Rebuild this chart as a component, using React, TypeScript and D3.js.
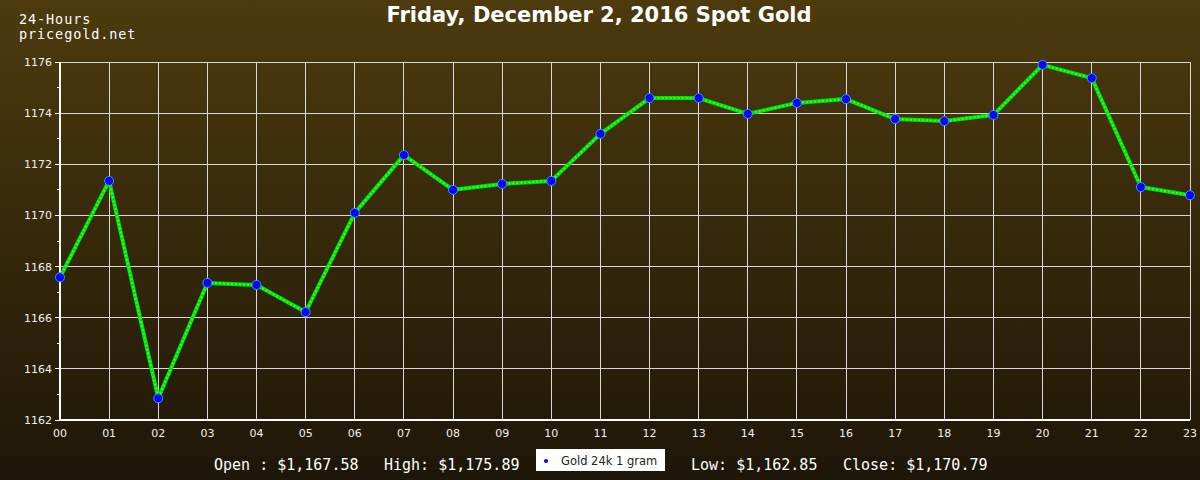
import React from "react";
import * as d3 from "d3";

const hours = ["00","01","02","03","04","05","06","07","08","09","10","11","12","13","14","15","16","17","18","19","20","21","22","23"];
const prices = [1167.58, 1171.35, 1162.85, 1167.36, 1167.28, 1166.22, 1170.10, 1172.36, 1171.0, 1171.23, 1171.35, 1173.19, 1174.59, 1174.59, 1173.97, 1174.40, 1174.55, 1173.77, 1173.69, 1173.93, 1175.89, 1175.37, 1171.11, 1170.79];
const yMajorTicks = [1162, 1164, 1166, 1168, 1170, 1172, 1174, 1176];
const yMinorTicks = [1163, 1165, 1167, 1169, 1171, 1173, 1175];
const titleText = "Friday, December 2, 2016 Spot Gold";
const cornerLines = ["24-Hours", "pricegold.net"];
const statsLeft = ["Open : $1,167.58", "High: $1,175.89"];
const statsRight = ["Low: $1,162.85", "Close: $1,170.79"];
const legendLabel = "Gold 24k 1 gram";

export default function App() {
  const W = 1200, H = 480;
  const left = 60, right = 1190, top = 62, bottom = 420;
  const x = d3.scalePoint<string>().domain(hours).range([left, right]);
  const y = d3.scaleLinear().domain([1162, 1176]).range([bottom, top]);
  const line = d3.line<number>().x((_, i) => x(hours[i]) as number).y((d) => y(d));
  const path = line(prices) || "";
  const mono = "'DejaVu Sans Mono', monospace";
  const sans = "'DejaVu Sans', sans-serif";
  return (
    <svg width={W} height={H} style={{ position: "absolute", left: 0, top: 0, display: "block" }}>
      <defs>
        <linearGradient id="bg" x1="0" y1="0" x2="0" y2="1">
          <stop offset="0" stopColor="#4d3b0e" />
          <stop offset="1" stopColor="#1e1608" />
        </linearGradient>
      </defs>
      <rect x={0} y={0} width={W} height={H} fill="url(#bg)" />
      {yMajorTicks.map((t) => (
        <line key={"h" + t} x1={left} x2={right} y1={y(t)} y2={y(t)} stroke="#d8d8d8" strokeWidth={1} shapeRendering="crispEdges" />
      ))}
      {hours.map((h) => (
        <line key={"v" + h} x1={x(h)} x2={x(h)} y1={top} y2={bottom} stroke="#d8d8d8" strokeWidth={1} shapeRendering="crispEdges" />
      ))}
      <line x1={left} x2={left} y1={top} y2={bottom} stroke="#ffffff" strokeWidth={1.5} shapeRendering="crispEdges" />
      <line x1={left} x2={right} y1={bottom} y2={bottom} stroke="#ffffff" strokeWidth={1.5} shapeRendering="crispEdges" />
      {yMajorTicks.map((t) => (
        <g key={"yt" + t}>
          <line x1={left - 5} x2={left} y1={y(t)} y2={y(t)} stroke="#ffffff" shapeRendering="crispEdges" />
          <text x={left - 8} y={y(t) + 4} textAnchor="end" fill="#f0f0f0" fontFamily={sans} fontSize={11}>{t}</text>
        </g>
      ))}
      {yMinorTicks.map((t) => (
        <line key={"ym" + t} x1={left - 3} x2={left} y1={y(t)} y2={y(t)} stroke="#ffffff" shapeRendering="crispEdges" />
      ))}
      {hours.map((h) => (
        <text key={"xl" + h} x={x(h)} y={bottom + 17} textAnchor="middle" fill="#f0f0f0" fontFamily={sans} fontSize={11}>{h}</text>
      ))}
      <path d={path} fill="none" stroke="#00e000" strokeWidth={4} strokeLinejoin="round" />
      <path d={path} fill="none" stroke="#33ff33" strokeWidth={2} strokeDasharray="2 2" />
      {prices.map((p, i) => (
        <circle key={"pt" + i} cx={x(hours[i])} cy={y(p)} r={4.5} fill="#0000ff" stroke="#3399ff" strokeWidth={1} />
      ))}
      <text x={599} y={22} textAnchor="middle" fill="#ffffff" fontFamily={sans} fontWeight="bold" fontSize={21}>{titleText}</text>
      {cornerLines.map((s, i) => (
        <text key={"c" + i} x={19} y={24 + i * 14.5} fill="#ffffff" fontFamily={mono} fontSize={13.5} letterSpacing={0.9}>{s}</text>
      ))}
      <text x={214} y={470} fill="#ffffff" fontFamily={mono} fontSize={15}>{statsLeft[0]}</text>
      <text x={384} y={470} fill="#ffffff" fontFamily={mono} fontSize={15}>{statsLeft[1]}</text>
      <rect x={536} y={449} width={129} height={22} fill="#ffffff" />
      <circle cx={546} cy={461} r={2} fill="#0000ff" />
      <text x={561} y={465} fill="#222222" fontFamily={sans} fontSize={11.5}>{legendLabel}</text>
      <text x={691} y={470} fill="#ffffff" fontFamily={mono} fontSize={15}>{statsRight[0]}</text>
      <text x={843} y={470} fill="#ffffff" fontFamily={mono} fontSize={15}>{statsRight[1]}</text>
    </svg>
  );
}
